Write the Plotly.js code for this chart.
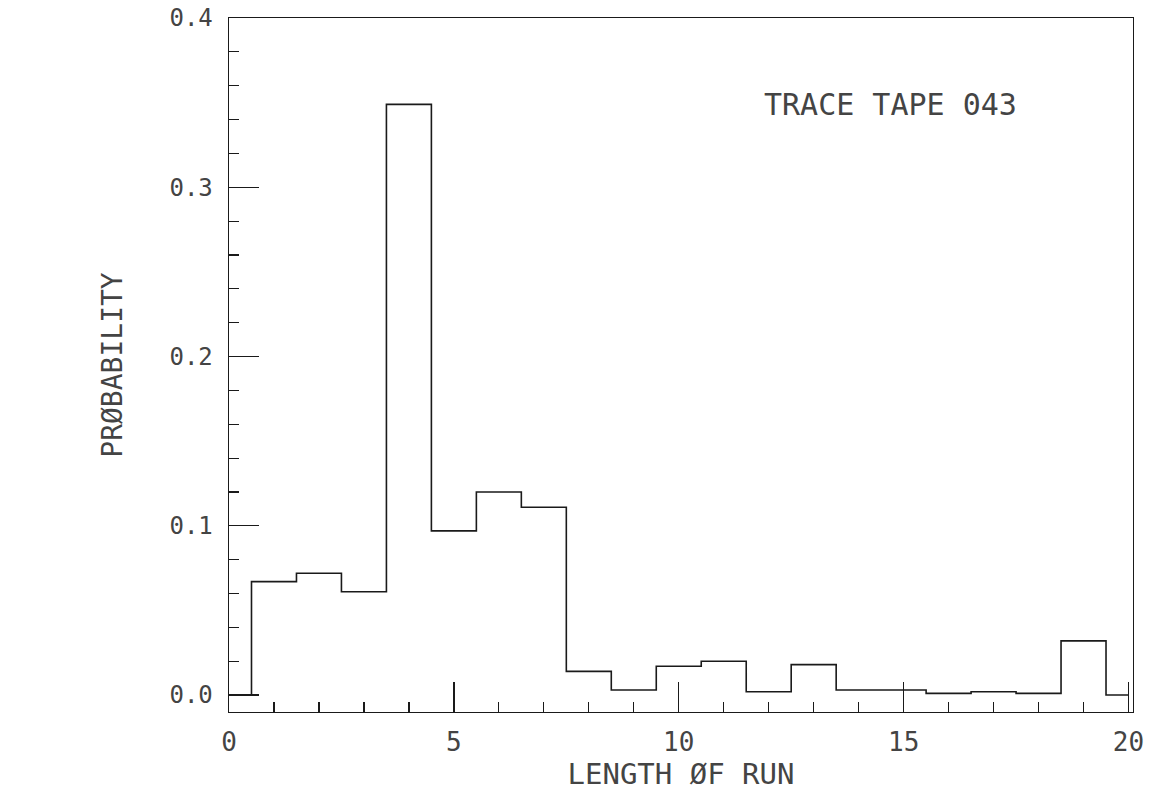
<!DOCTYPE html>
<html>
<head>
<meta charset="utf-8">
<script src="https://cdn.plot.ly/plotly-3.0.1.min.js"></script>
<style>
  html, body { margin: 0; padding: 0; background: #fff; }
  #chart { width: 1159px; height: 791px; }
</style>
</head>
<body>
<div id="chart"></div>
<script>
// Run length (bin centres) and probability
const runLength = [0, 1, 2, 3, 4, 5, 6, 7, 8, 9, 10, 11, 12, 13, 14, 15, 16, 17, 18, 19, 20];
const probability = [0.0, 0.067, 0.072, 0.061, 0.349, 0.097, 0.120, 0.111, 0.014, 0.003,
                     0.017, 0.020, 0.002, 0.018, 0.003, 0.003, 0.001, 0.002, 0.001, 0.032, 0.0];

const xTickVals = [0, 5, 10, 15, 20];
const xTickText = ['0', '5', '10', '15', '20'];
const yTickVals = [0.0, 0.1, 0.2, 0.3, 0.4];
const yTickText = ['0.0', '0.1', '0.2', '0.3', '0.4'];

const xTitle = 'LENGTH ØF RUN';
const yTitle = 'PRØBABILITY';
const label = 'TRACE TAPE 043';

const fontFam = '"DejaVu Sans Mono", monospace';
const ink = '#1a1a1a';
const textInk = '#444444';

const trace = {
  x: runLength,
  y: probability,
  type: 'scatter',
  mode: 'lines',
  line: { shape: 'hvh', color: ink, width: 1.6 },
  hoverinfo: 'x+y',
  showlegend: false
};

const layout = {
  width: 1159,
  height: 791,
  margin: { l: 229, r: 26, t: 18, b: 79 },
  paper_bgcolor: '#ffffff',
  plot_bgcolor: '#ffffff',
  font: { family: fontFam, color: textInk },
  xaxis: {
    range: [0, 20.1],
    showgrid: false,
    zeroline: false,
    showline: true,
    mirror: true,
    linecolor: ink,
    linewidth: 1.4,
    ticks: 'inside',
    ticklen: 30,
    tickwidth: 1.4,
    tickcolor: ink,
    tickmode: 'array',
    tickvals: xTickVals,
    ticktext: xTickText,
    ticklabelstandoff: 6,
    tickfont: { family: fontFam, size: 26, color: textInk },
    minor: { ticks: 'inside', ticklen: 10, tickwidth: 1.2, tickcolor: ink, dtick: 1, tick0: 0, showgrid: false },
    title: { text: xTitle, font: { family: fontFam, size: 29, color: textInk }, standoff: 2 }
  },
  yaxis: {
    range: [-0.01, 0.4],
    showgrid: false,
    zeroline: false,
    showline: true,
    mirror: true,
    linecolor: ink,
    linewidth: 1.4,
    ticks: 'inside',
    ticklen: 30,
    tickwidth: 1.4,
    tickcolor: ink,
    tickmode: 'array',
    tickvals: yTickVals,
    ticktext: yTickText,
    ticklabelstandoff: 10,
    tickfont: { family: fontFam, size: 24, color: textInk },
    minor: { ticks: 'inside', ticklen: 10, tickwidth: 1.2, tickcolor: ink, dtick: 0.02, tick0: 0, showgrid: false },
    title: { text: yTitle, font: { family: fontFam, size: 28, color: textInk }, standoff: 38 }
  },
  annotations: [{
    text: label,
    x: 11.85, y: 0.349,
    xref: 'x', yref: 'y',
    xanchor: 'left', yanchor: 'middle',
    showarrow: false,
    font: { family: fontFam, size: 30, color: textInk }
  }]
};

Plotly.newPlot('chart', [trace], layout, { displayModeBar: false, staticPlot: true });
</script>
</body>
</html>
